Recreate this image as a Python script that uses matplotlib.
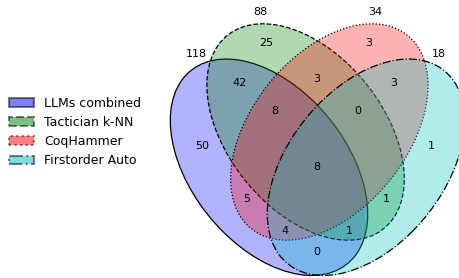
import matplotlib
matplotlib.use("Agg")
import matplotlib.pyplot as plt
from matplotlib.colors import to_rgba
from matplotlib.patches import Ellipse, Patch

# ---- data ----
set_names = ["LLMs combined", "Tactician k-NN", "CoqHammer", "Firstorder Auto"]
set_totals = [118, 88, 34, 18]
region_keys = ["1000", "0100", "0010", "0001",
               "1100", "0110", "0011",
               "1110", "0111", "1111",
               "1010", "0101",
               "1011", "1101", "1001"]
region_counts = [50, 25, 3, 1,
                 42, 3, 3,
                 8, 0, 8,
                 5, 1,
                 4, 1, 0]

# ---- layout (venn units) ----
colors = ["#0000ff", "#008000", "#ff0000", "#00bfbf"]
linestyles = ["-", "--", ":", "-."]
ell_centers = [(0.3426, 0.402), (0.458, 0.496), (0.533, 0.496), (0.6486, 0.402)]
ell_angles = [140.0, 140.0, 40.0, 40.0]
ell_w, ell_h = 0.72, 0.45
total_pos = [(0.114, 0.705), (0.314, 0.815), (0.677, 0.815), (0.877, 0.705)]
region_pos = {
    "1000": (0.133, 0.459), "0100": (0.335, 0.733), "0010": (0.656, 0.733),
    "0001": (0.856, 0.459), "1100": (0.251, 0.628), "0110": (0.494, 0.637),
    "0011": (0.735, 0.628), "1110": (0.362, 0.553), "0111": (0.624, 0.553),
    "1111": (0.494, 0.402), "1010": (0.272, 0.317), "0101": (0.714, 0.317),
    "1011": (0.393, 0.233), "1101": (0.595, 0.233), "1001": (0.494, 0.177),
}

W, H = 459, 278
fig = plt.figure(figsize=(W / 100, H / 100), dpi=100)
ax = fig.add_axes([0, 0, 1, 1])
sx, sy = 317.0, 375.0
x0px, y0px = 160.4, 318.0
ax.set_xlim(-x0px / sx, (W - x0px) / sx)
ax.set_ylim((y0px - H) / sy, y0px / sy)
ax.set_axis_off()

for c, ls, (cx, cy), ang in zip(colors, linestyles, ell_centers, ell_angles):
    e = Ellipse((cx, cy), ell_w, ell_h, angle=ang,
                edgecolor="black", linestyle=ls, linewidth=0.9)
    e.set_facecolor(to_rgba(c, 0.3))
    ax.add_patch(e)

for key, val in zip(region_keys, region_counts):
    x, y = region_pos[key]
    ax.text(x, y, str(val), ha="center", va="center", fontsize=8)

for (x, y), t in zip(total_pos, set_totals):
    ax.text(x, y, str(t), ha="center", va="center", fontsize=8)

handles = [Patch(facecolor=c, edgecolor="black", alpha=0.5, linestyle=ls, linewidth=1.5)
           for c, ls in zip(colors, linestyles)]
fig.legend(handles, set_names, loc="center left", bbox_to_anchor=(0.009, 0.525),
           bbox_transform=fig.transFigure, frameon=False, fontsize=9, borderaxespad=0)

fig.savefig("out.png", dpi=100)
